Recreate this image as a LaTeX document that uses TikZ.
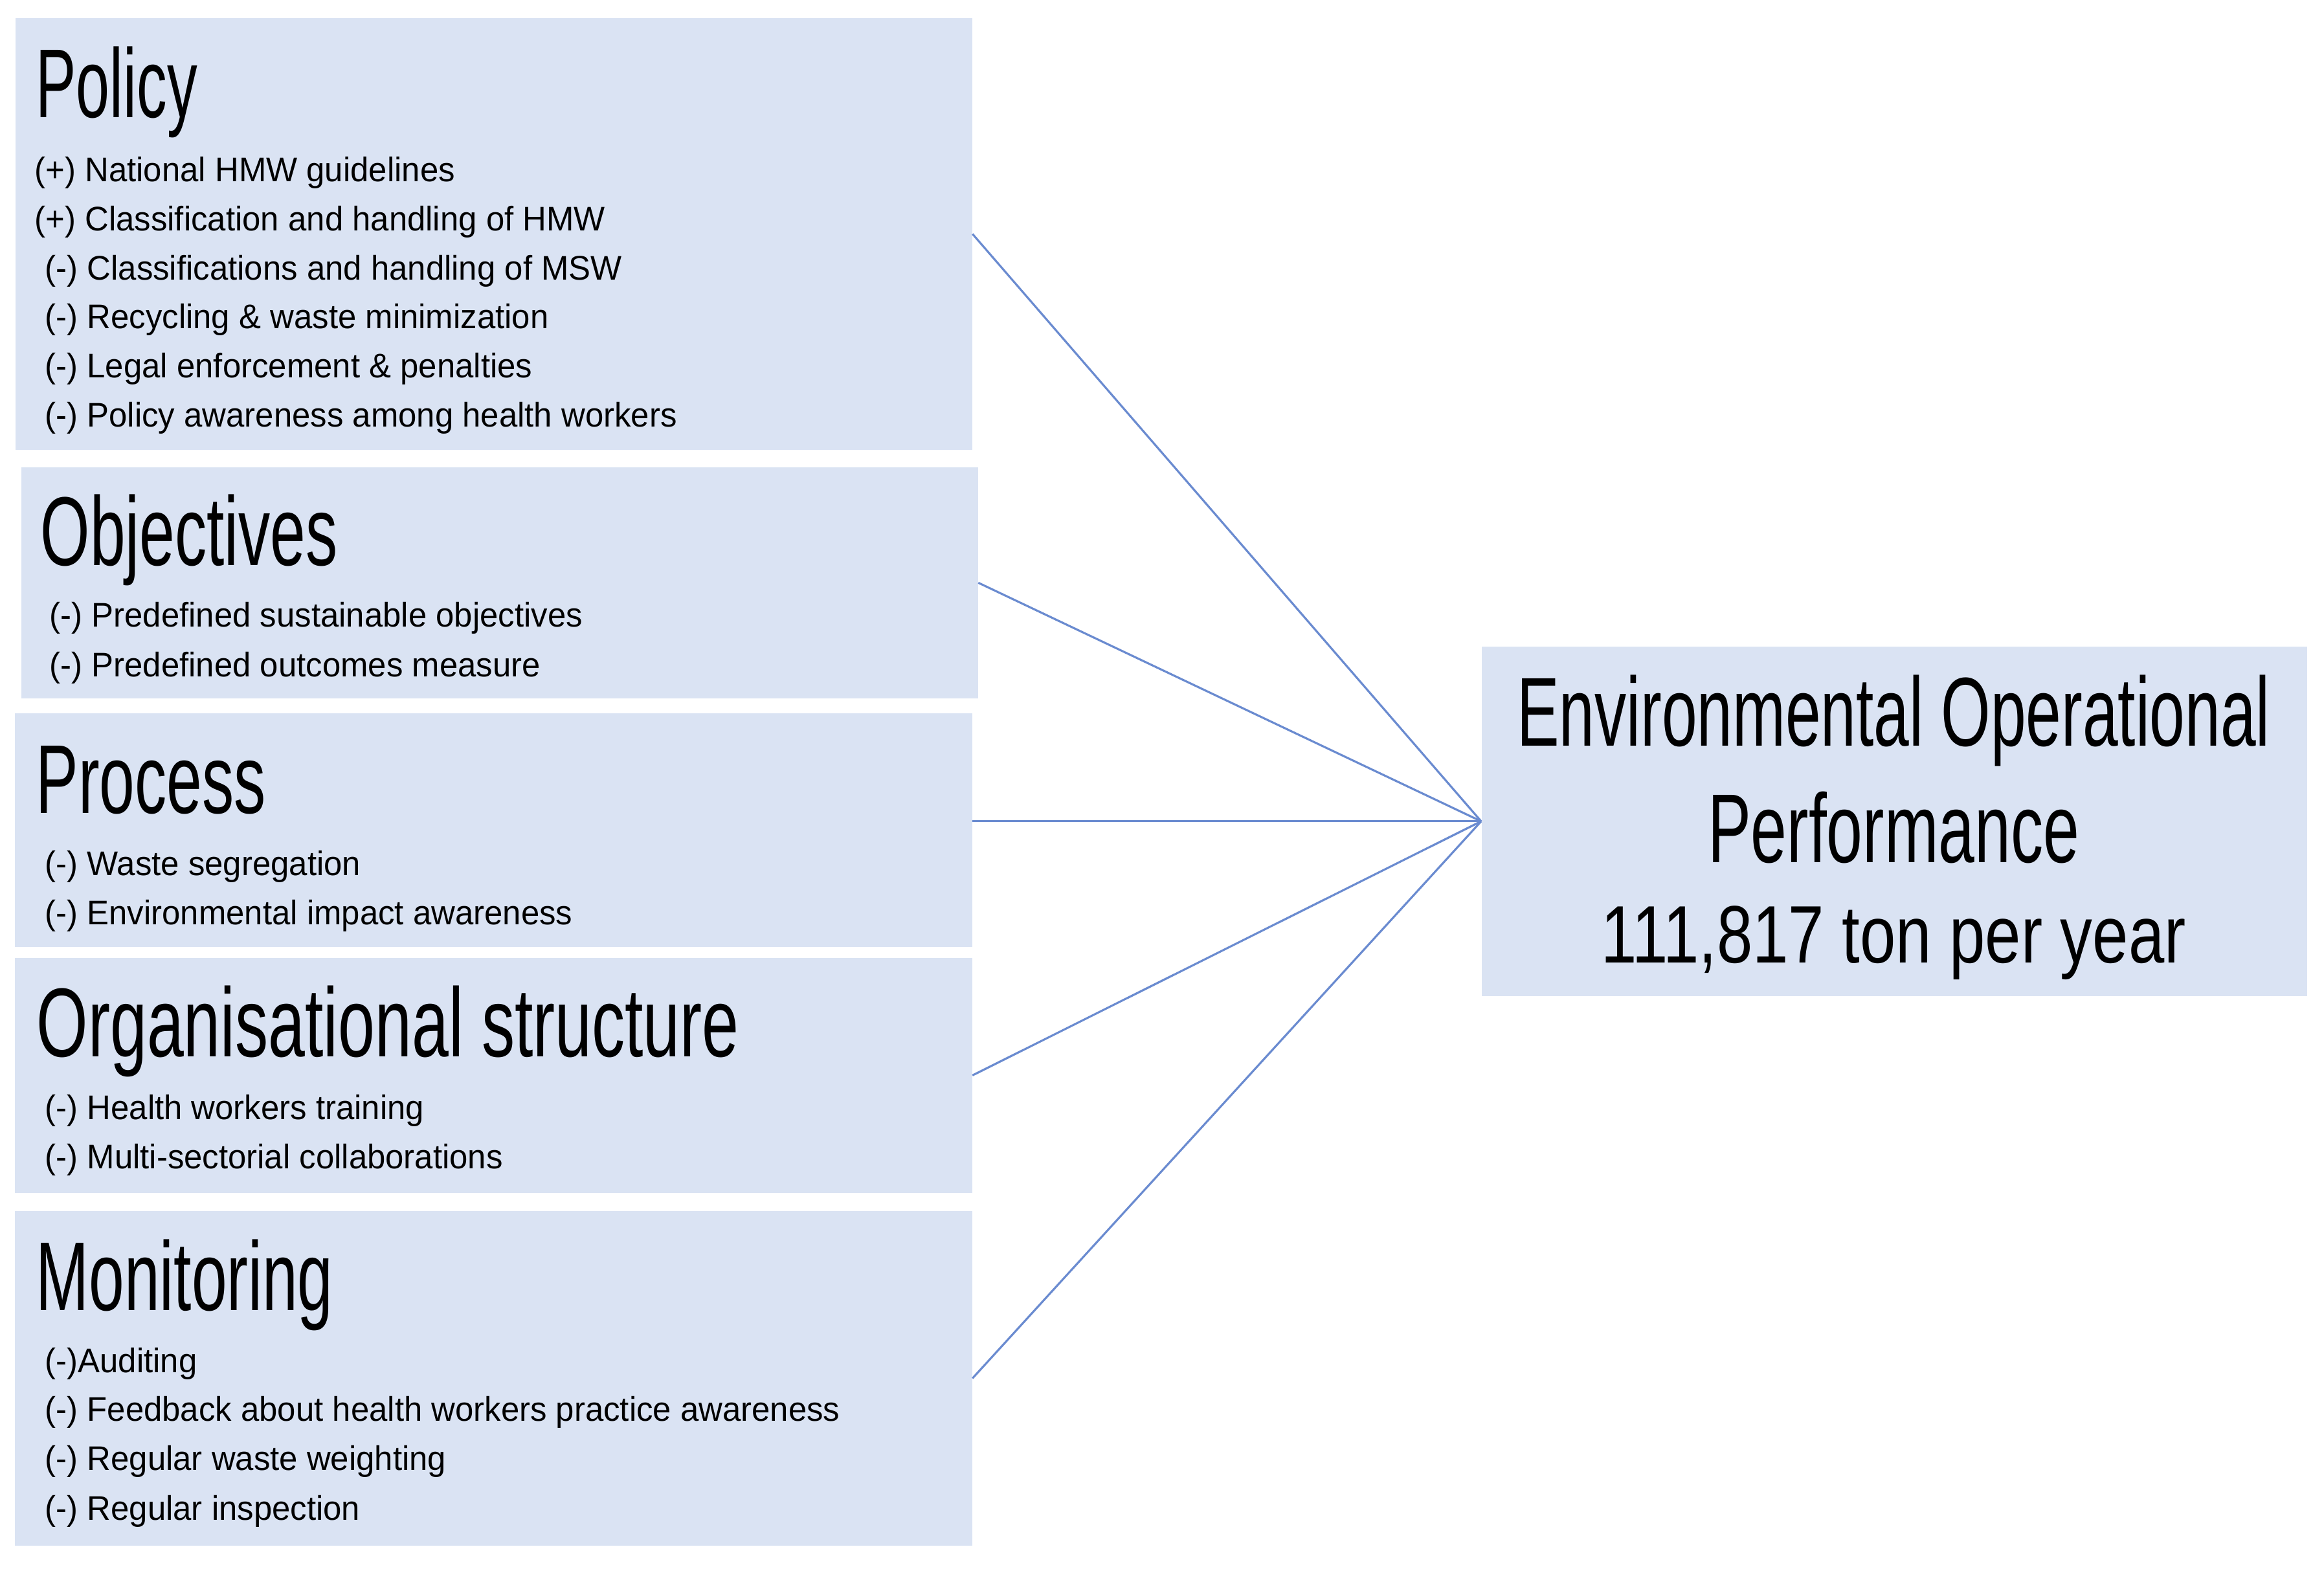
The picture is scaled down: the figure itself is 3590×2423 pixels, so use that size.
\documentclass[tikz,border=0pt]{standalone}
\usepackage{fontspec}
\usepackage{graphicx}
\setmainfont{Liberation Sans}
\newfontfamily\titlefont{Liberation Sans}[FakeStretch=0.65]
\newfontfamily\bodyfont{Liberation Sans}[FakeStretch=0.965]
\newfontfamily\numfont{Liberation Sans}[FakeStretch=0.79]
\definecolor{boxfill}{HTML}{DAE3F3}
\definecolor{linkcol}{HTML}{6A8BD0}
\begin{document}
\begin{tikzpicture}[x=0.01cm,y=-0.01cm,
  panel/.style={fill=boxfill, draw=none, inner sep=0, anchor=north west},
  ttl/.style={anchor=base west, inner sep=0, font=\titlefont\fontsize{43pt}{43pt}\selectfont},
  itm/.style={anchor=base west, inner sep=0, font=\bodyfont\fontsize{15pt}{15pt}\selectfont},
  envt/.style={anchor=base, inner sep=0, font=\titlefont\fontsize{43pt}{43pt}\selectfont},
  link/.style={draw=linkcol, line width=0.9pt}]
\useasboundingbox[fill=white] (0,0) rectangle (3590,2423);

% boxes
\node[panel, minimum width=14.77cm, minimum height=6.67cm] (policy) at (23,27) {};
\node[panel, minimum width=14.77cm, minimum height=3.57cm] (objectives) at (32,721) {};
\node[panel, minimum width=14.78cm, minimum height=3.61cm] (process) at (22,1101) {};
\node[panel, minimum width=14.78cm, minimum height=3.63cm] (orgstr) at (22,1479) {};
\node[panel, minimum width=14.78cm, minimum height=5.17cm] (monitoring) at (22,1870) {};
\node[panel, minimum width=12.75cm, minimum height=5.40cm] (env) at (2288,998) {};

% Policy
\node[ttl] (t1) at (55,181) {\scalebox{0.95}[1]{Policy}};
\node[itm] (p1) at (53,280) {(+) National HMW guidelines};
\node[itm] (p2) at (53,356) {(+) Classification and handling of HMW};
\node[itm] (p3) at (69,432) {(-) Classifications and handling of MSW};
\node[itm] (p4) at (69,507) {(-) Recycling \& waste minimization};
\node[itm] (p5) at (69,583) {(-) Legal enforcement \& penalties};
\node[itm] (p6) at (69,659) {(-) Policy awareness among health workers};

% Objectives
\node[ttl] (t2) at (62,873) {Objectives};
\node[itm] (o1) at (76,968) {(-) Predefined sustainable objectives};
\node[itm] (o2) at (76,1045) {(-) Predefined outcomes measure};

% Process
\node[ttl] (t3) at (55,1256) {Process};
\node[itm] (r1) at (69,1352) {(-) Waste segregation};
\node[itm] (r2) at (69,1428) {(-) Environmental impact awareness};

% Organisational structure
\node[ttl] (t4) at (56,1632) {\scalebox{1.04}[1]{Organisational structure}};
\node[itm] (s1) at (69,1729) {(-) Health workers training};
\node[itm] (s2) at (69,1805) {(-) Multi-sectorial collaborations};

% Monitoring
\node[ttl] (t5) at (55,2024) {Monitoring};
\node[itm] (m1) at (69,2120) {(-)Auditing};
\node[itm] (m2) at (69,2195) {(-) Feedback about health workers practice awareness};
\node[itm] (m3) at (69,2271) {(-) Regular waste weighting};
\node[itm] (m4) at (69,2348) {(-) Regular inspection};

% Environmental box text
\node[envt] (e1) at (2925,1152) {Environmental Operational};
\node[envt] (e2) at (2925,1332) {\scalebox{1.02}[1]{Performance}};
\node[anchor=base, inner sep=0, font=\numfont\fontsize{35.8pt}{36pt}\selectfont] (e3) at (2925,1487) {111,817 ton per year};

% connectors
\draw[link] (policy.east) -- (env.west);
\draw[link] (objectives.east) -- (env.west);
\draw[link] (env.west -| process.east) -- (env.west);
\draw[link] (orgstr.east) -- (env.west);
\draw[link] (monitoring.east) -- (env.west);
\end{tikzpicture}
\end{document}
